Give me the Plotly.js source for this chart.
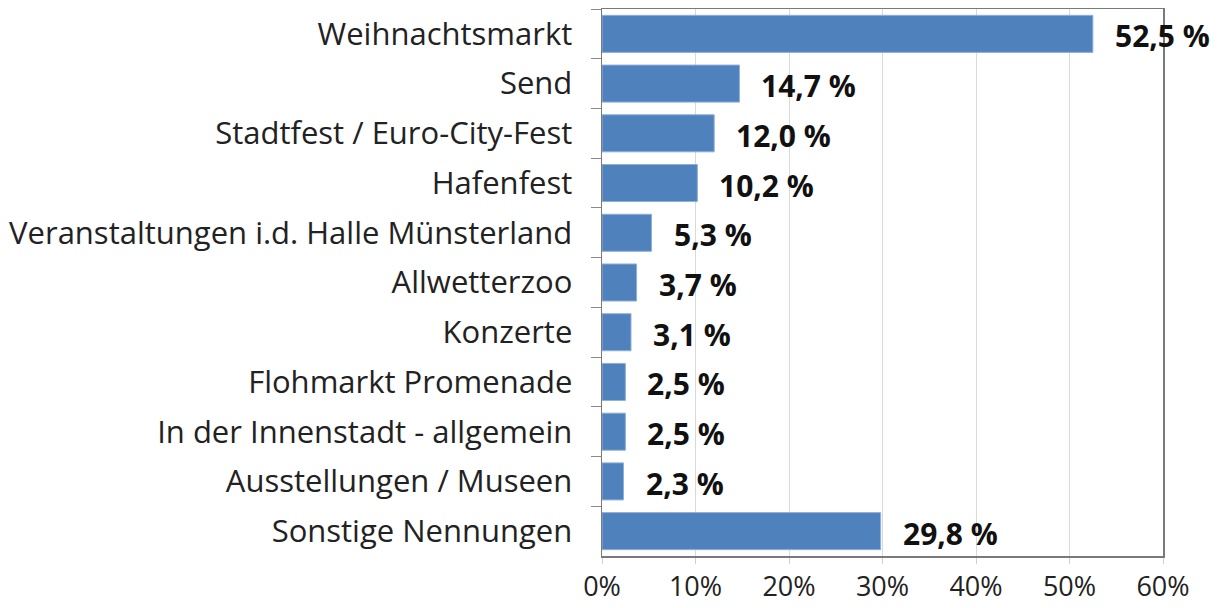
<!DOCTYPE html>
<html>
<head>
<meta charset="utf-8">
<script src="https://cdn.plot.ly/plotly-3.0.1.min.js"></script>
<style>html,body{margin:0;padding:0;background:#fff;}#chart{width:1220px;height:608px;}</style>
</head>
<body>
<div id="chart"></div>
<script>
const categories = ["Weihnachtsmarkt","Send","Stadtfest / Euro-City-Fest","Hafenfest","Veranstaltungen i.d. Halle Münsterland","Allwetterzoo","Konzerte","Flohmarkt Promenade","In der Innenstadt - allgemein","Ausstellungen / Museen","Sonstige Nennungen"];
const values = [52.5,14.7,12.0,10.2,5.3,3.7,3.1,2.5,2.5,2.3,29.8];
const valueLabels = values.map(v => v.toFixed(1).replace('.', ',') + ' %');
const xTickVals = [0,10,20,30,40,50,60];
const xTickText = ["0%","10%","20%","30%","40%","50%","60%"];

const font = "'Open Sans', 'Noto Sans', sans-serif";

const trace = {
  type: 'bar', orientation: 'h',
  x: values, y: categories,
  marker: {color: '#4F81BD', line: {color: '#8FB0D8', width: 1}},
  hoverinfo: 'none'
};

const annotations = values.map((v, i) => ({
  x: v, y: categories[i], xref: 'x', yref: 'y',
  text: '<b>' + valueLabels[i] + '</b>', showarrow: false,
  xanchor: 'left', xshift: 20, yshift: -2,
  font: {family: font, size: 30, color: '#111'}
}));

const layout = {
  width: 1220, height: 608,
  margin: {l: 602, r: 57, t: 9, b: 52},
  paper_bgcolor: '#fff', plot_bgcolor: '#fff',
  showlegend: false,
  bargap: 0.255,
  xaxis: {
    range: [0, 60], tickvals: xTickVals, ticktext: xTickText,
    showgrid: true, gridcolor: '#d9d9d9', gridwidth: 1,
    zeroline: false, showline: true, linecolor: '#7a7a7a', linewidth: 1.5, mirror: true,
    ticks: 'outside', ticklen: 6, tickcolor: '#d0d0d0',
    tickfont: {family: font, size: 27, color: '#222'},
    fixedrange: true
  },
  yaxis: {
    type: 'category', autorange: 'reversed',
    showline: true, linecolor: '#7a7a7a', linewidth: 1.5, mirror: true,
    ticks: 'outside', tickson: 'boundaries', ticklen: 10, tickcolor: '#8a8a8a',
    ticklabelstandoff: 22,
    tickfont: {family: font, size: 31, color: '#222'},
    showgrid: false, fixedrange: true
  },
  annotations: annotations
};

Plotly.newPlot('chart', [trace], layout, {displayModeBar: false, staticPlot: true});
</script>
</body>
</html>
